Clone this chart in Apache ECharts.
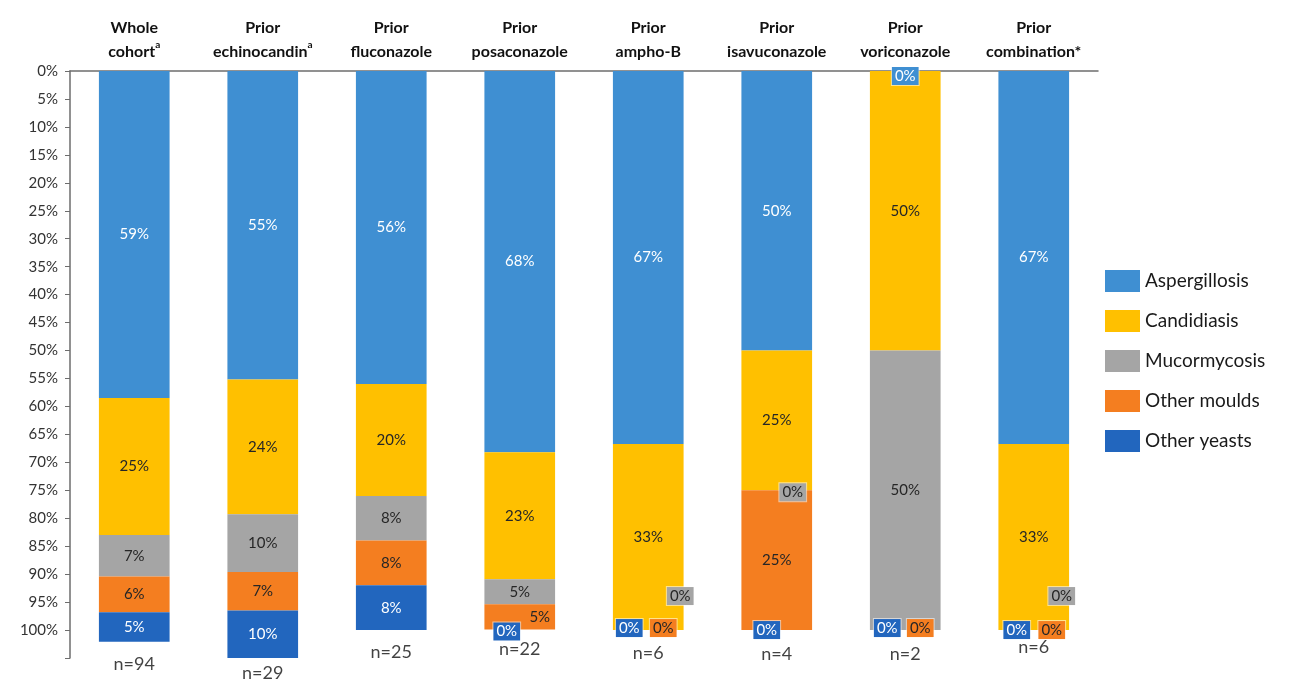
<!DOCTYPE html>
<html>
<head>
<meta charset="utf-8">
<script src="https://cdn.jsdelivr.net/npm/echarts@6/dist/echarts.min.js"></script>
<style>
  html, body { margin: 0; padding: 0; background: #fff; }
  #chart { width: 1298px; height: 683px; }
</style>
</head>
<body>
<div id="chart"></div>
<script>
// categories (two-line headers) and footnote marks
const categories = ['Whole\ncohort', 'Prior\nechinocandin', 'Prior\nfluconazole', 'Prior\nposaconazole',
  'Prior\nampho-B', 'Prior\nisavuconazole', 'Prior\nvoriconazole', 'Prior\ncombination*'];
const footnotes = ['a', 'a', '', '', '', '', '', ''];
const nCounts = [94, 29, 25, 22, 6, 4, 2, 6];

// percentages
const aspergillosis = [58.5, 55.2, 56, 68.2, 66.7, 50, 0, 66.7];
const candidiasis = [24.5, 24.1, 20, 22.7, 33.3, 25, 50, 33.3];
const mucormycosis = [7.4, 10.3, 8, 4.5, 0, 0, 50, 0];
const otherMoulds = [6.4, 6.9, 8, 4.5, 0, 25, 0, 0];
const otherYeasts = [5.3, 10.3, 8, 0, 0, 0, 0, 0];

const yTicks = [0, 5, 10, 15, 20, 25, 30, 35, 40, 45, 50, 55, 60, 65, 70, 75, 80, 85, 90, 95, 100];

const seriesDefs = [
  { name: 'Aspergillosis', data: aspergillosis, color: '#3f8fd2', text: '#ffffff' },
  { name: 'Candidiasis', data: candidiasis, color: '#ffc000', text: '#262626' },
  { name: 'Mucormycosis', data: mucormycosis, color: '#a5a5a5', text: '#262626' },
  { name: 'Other moulds', data: otherMoulds, color: '#f47e20', text: '#262626' },
  { name: 'Other yeasts', data: otherYeasts, color: '#2266be', text: '#ffffff' }
];

// hand-placed label nudges, like the original spreadsheet (series-category)
const labelOffsets = {
  '3-3': [20, 0], '4-3': [-13, 2],
  '2-4': [32, -34], '3-4': [15, -2], '4-4': [-19, -2],
  '2-5': [16, 2], '4-5': [-10, 0],
  '0-6': [0, 5], '3-6': [15, -2], '4-6': [-18, -2],
  '2-7': [28, -34], '3-7': [18, 0], '4-7': [-17, 0]
};
const nLabelOffsets = [[0, 0], [0, -7], [0, 0], [0, -2], [0, 1], [0, 2], [0, 2], [0, -5]];

const fontFamily = 'Lato';
const yMax = 105;

let series = seriesDefs.map((def, si) => {
  return {
    name: def.name,
    type: 'bar',
    stack: 'total',
    barWidth: '55%',
    itemStyle: { color: def.color },
    data: def.data.map((v, ci) => {
      let off = labelOffsets[si + '-' + ci] || [0, 0];
      let label = {
        show: true,
        position: 'inside',
        offset: off,
        color: def.text,
        fontSize: 15,
        fontFamily: fontFamily
      };
      if (v === 0) {
        label.backgroundColor = def.color;
        label.borderColor = 'rgba(255,255,255,0.55)';
        label.borderWidth = 1;
        label.padding = [2, 3, 1, 3];
      }
      return { value: v, label: label };
    }),
    label: {
      formatter: (p) => Math.round(p.value) + '%'
    }
  };
});

// n= labels under each bar
let totals = categories.map((c, i) => seriesDefs.reduce((s, d) => s + d.data[i], 0));
series.push({
  name: 'n',
  type: 'scatter',
  symbolSize: 0,
  clip: false,
  silent: true,
  data: totals.map((t, i) => ({
    value: Math.min(t, yMax),
    label: { offset: nLabelOffsets[i] }
  })),
  label: {
    show: true,
    position: 'bottom',
    distance: 13,
    fontSize: 18,
    fontFamily: fontFamily,
    color: '#111',
    formatter: (p) => 'n=' + nCounts[p.dataIndex]
  }
});

let option = {
  backgroundColor: '#fff',
  animation: false,
  textStyle: { fontFamily: fontFamily },
  grid: { left: 70, right: 200, top: 71, bottom: 25 },
  legend: {
    data: seriesDefs.map(d => d.name),
    orient: 'vertical',
    left: 1100,
    top: 265,
    icon: 'rect',
    itemWidth: 35,
    itemHeight: 22,
    itemGap: 18,
    textStyle: { fontSize: 19, color: '#1a1a1a', fontFamily: fontFamily }
  },
  xAxis: {
    type: 'category',
    position: 'top',
    data: categories,
    axisLine: { onZero: false, lineStyle: { color: '#6d6d6d', width: 1.5 } },
    axisTick: { show: false },
    axisLabel: {
      interval: 0,
      margin: 7,
      fontSize: 16,
      fontWeight: 'bold',
      color: '#111',
      lineHeight: 24,
      formatter: (val, idx) => footnotes[idx] ? val + '{s|' + footnotes[idx] + '}' : val,
      rich: {
        s: { fontSize: 10, fontWeight: 'bold', color: '#111', verticalAlign: 'top', padding: [0, 0, 10, 0] }
      }
    }
  },
  yAxis: {
    type: 'value',
    inverse: true,
    min: 0,
    max: yMax,
    interval: 5,
    splitLine: { show: false },
    axisLine: { show: true, lineStyle: { color: '#6d6d6d', width: 1.5 } },
    axisTick: { show: true, length: 5, lineStyle: { color: '#6d6d6d' } },
    axisLabel: {
      margin: 12,
      fontSize: 15,
      color: '#333',
      formatter: (v) => yTicks.indexOf(v) >= 0 ? v + '%' : ''
    }
  },
  series: series
};

let myChart = echarts.init(document.getElementById('chart'));
myChart.setOption(option);
</script>
</body>
</html>
